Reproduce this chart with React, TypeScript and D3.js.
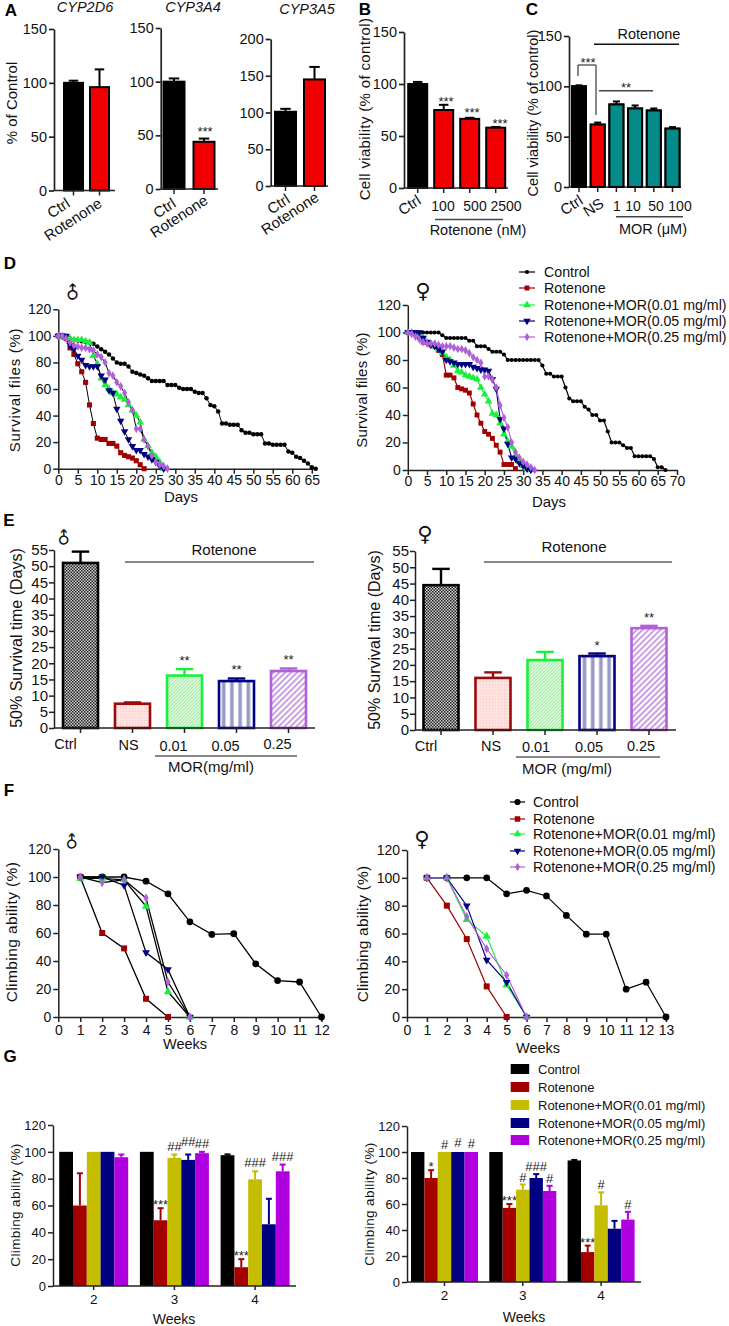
import React, { useEffect, useRef } from "react";
import * as d3 from "d3";

// ---------- DATA ----------
const ctrlRot = ["Ctrl", "Rotenone"];
const cyp2d6 = [100, 96]; const cyp2d6Err = [2, 16.5];
const cyp3a4 = [100, 44]; const cyp3a4Err = [3, 3];
const cyp3a5 = [101, 145]; const cyp3a5Err = [4, 17];
const bCats = ["Ctrl", "100", "500", "2500"];
const bVals = [100, 75, 66.5, 58]; const bErr = [2, 5, 1, 0.7];
const cCats = ["Ctrl", "NS", "1", "10", "50", "100"];
const cVals = [100, 62, 82, 78, 76, 58]; const cErr = [1, 2, 3, 3, 2, 1.5];

const dMaleControl = [100,100,99,98,97,96.5,96,95.5,95,94,92,90,88,86,83,80,79,79,77,73,72,71,70,68,66,66,66,66,63,63,63,61,60,60,60,58,57,57,53,48,47,43,34,34,33,33,33,29,27,27,26,26,26,19,19,18,18,18,18,13,12,9,8,6,4,1,0];
const dMaleRot = [100,100,98,91,86,79,73,65,48,34,23,22,22,19,19,17,12,10,9,8,6,3,0];
const dMale001 = [100,99,99,98,97,97,97,96,95,85,79,68,63,60,57,56,54,52,48,44,40,35,22,17,12,9,5,0];
const dMale005 = [100,100,100,93,90,85,82,78,77,77,77,70,67,59,57,45,36,28,22,17,14,14,11,9,7,5,2,0];
const dMale025 = [100,100,98,95,93,92,91,91,90,89,86,84,80,72,70,65,62,57,50,44,30,30,22,17,10,5,3,2,0];

const dFemControl = [100,100,100,100,100,100,100,100,100,98,96,96,96,96,96,96,94,94,90,90,90,88,86,86,86,84,80,80,80,80,80,80,80,80,80,76,70,70,68,68,68,60,52,50,50,50,46,44,40,40,36,36,28,20,20,20,18,16,16,10,10,10,10,10,8,2,2,0];
const dFemRot = [100,100,99,97,93,93,91,90,87,84,69,69,67,60,59,58,56,48,40,34,28,26,23,18,13,4,4,4,1];
const dFem001 = [100,100,99,98,96,93,92,90,88,85,82,80,76,72,71,69,68,67,66,60,55,50,41,40,34,26,21,17,10,6,3,1,0];
const dFem005 = [100,100,100,100,96,93,91,90,88,86,80,79,78,77,77,77,77,75,74,73,73,72,66,59,37,30,19,9,8,5,3,1,0];
const dFem025 = [100,99,97,95,93,92,92,92,91,90,90,90,89,88,88,87,85,82,80,78,68,68,66,60,47,38,31,20,13,9,6,4,2,0];

const legendLabels = ["Control", "Rotenone", "Rotenone+MOR(0.01 mg/ml)", "Rotenone+MOR(0.05 mg/ml)", "Rotenone+MOR(0.25 mg/ml)"];
const lineColors = ["#000000", "#a00000", "#19f03c", "#000080", "#b060d8"];
const groupColors = ["#000000", "#a50000", "#c4bd00", "#000080", "#b000e0"];
const eCats = ["Ctrl", "NS", "0.01", "0.05", "0.25"];
const eMale = [51, 7.5, 16.2, 14.5, 17.6]; const eMaleErr = [3.5, 0.4, 2, 0.8, 0.8];
const eFem = [44.5, 16, 21.5, 22.7, 31.3]; const eFemErr = [5, 1.7, 2.5, 0.8, 0.7];
const eStrokes = ["#000000", "#9b0a0a", "#19f03c", "#000080", "#b060d8"];
const eMaleStars = ["", "", "**", "**", "**"];
const eFemStars = ["", "", "", "*", "**"];

const fMaleControl = [100,100,100,97,88,68,59,59.5,38,26,25,0];
const fMaleRot = [100,60,49,13,0];
const fMale001 = [99,99,98,79,18,0];
const fMale005 = [100,100,94,46,34,0];
const fMale025 = [100,96,98,85,25,0];
const fFemControl = [100,100,100,100,88.5,91,87,73,59.5,59.5,20,25,0];
const fFemRot = [100,80,56,22,0];
const fFem001 = [100,100,70,58,23,0];
const fFem005 = [100,100,80,41,25,0];
const fFem025 = [100,100,72,49,30,0];

const weeks = ["2", "3", "4"];
const gMale = [[100,60,100,100,96],[100,49,95.5,94,99],[97.5,14,79.5,46,85.5]];
const gMaleErr = [[0,24,0,0,2],[0,9,2.5,4,1],[0.6,6,6,19,5]];
const gMaleMarks = [["","","","",""],["","***","##","##","##"],["","***","###","","###"]];
const gFem = [[100,80,100,100,100],[100,57,71,80,70],[93.5,23,59,41,48]];
const gFemErr = [[0,6,0,0,0],[0,3,4,3,4],[0.4,5,10,6,6]];
const gFemMarks = [["","*","#","#","#"],["","***","#","###","#"],["","***","#","","#"]];

const FONT = "'Liberation Sans', Arial, sans-serif";
type G = d3.Selection<SVGGElement, unknown, null, undefined>;

function txt(g: G, x: number, y: number, s: string, o: any = {}) {
  const t = g.append("text").attr("x", x).attr("y", y).text(s)
    .attr("font-size", o.size ?? 14).attr("text-anchor", o.anchor ?? "middle")
    .attr("fill", o.fill ?? "#111").attr("font-family", o.family ?? FONT);
  if (o.weight) t.attr("font-weight", o.weight);
  if (o.style) t.attr("font-style", o.style);
  if (o.spacing) t.attr("letter-spacing", o.spacing);
  if (o.rotate !== undefined) t.attr("transform", `rotate(${o.rotate} ${x} ${y})`);
  return t;
}
function hline(g: G, x1: number, x2: number, y: number, w = 1.5, c = "#222") {
  g.append("line").attr("x1", x1).attr("x2", x2).attr("y1", y).attr("y2", y).attr("stroke", c).attr("stroke-width", w);
}
function yAxis(g: G, x: number, scale: any, ticks: number[], size: number, w = 1.5, pad = 2) {
  const a = g.append("g").attr("transform", `translate(${x},0)`)
    .call(d3.axisLeft(scale).tickValues(ticks).tickSize(5).tickSizeOuter(0).tickPadding(pad) as any);
  a.attr("font-size", size).attr("font-family", FONT);
  a.selectAll("path,line").attr("stroke", "#222").attr("stroke-width", w);
  a.selectAll("text").attr("fill", "#111");
}
function bandOf(cats: string[], c0: number, step: number, w: number) {
  const p = 1 - w / step;
  return d3.scaleBand<string>().domain(cats).range([c0 - step / 2, c0 + step * (cats.length - 0.5)]).paddingInner(p).paddingOuter(p / 2);
}
function bars(g: G, cats: string[], x: any, y: any, vals: number[], errs: number[], fills: (i: number) => string, strokes: (i: number) => string, sw = 2, capW = 0.5, ew = 2) {
  cats.forEach((c, i) => {
    const bx = x(c), bw = x.bandwidth(), cx = bx + bw / 2;
    if (errs[i] > 0) {
      g.append("line").attr("x1", cx).attr("x2", cx).attr("y1", y(vals[i])).attr("y2", y(vals[i] + errs[i])).attr("stroke", strokes(i)).attr("stroke-width", ew);
      g.append("line").attr("x1", cx - bw * capW / 2).attr("x2", cx + bw * capW / 2).attr("y1", y(vals[i] + errs[i])).attr("y2", y(vals[i] + errs[i])).attr("stroke", strokes(i)).attr("stroke-width", ew);
    }
    g.append("rect").attr("x", bx).attr("y", y(vals[i])).attr("width", bw).attr("height", y(0) - y(vals[i]))
      .attr("fill", fills(i)).attr("stroke", strokes(i)).attr("stroke-width", sw);
  });
}
function xTicks(g: G, cats: string[], x: any, y0: number, len = 5, w = 1.5) {
  cats.forEach((c) => {
    const cx = x(c) + x.bandwidth() / 2;
    g.append("line").attr("x1", cx).attr("x2", cx).attr("y1", y0).attr("y2", y0 + len).attr("stroke", "#222").attr("stroke-width", w);
  });
}
function stars(g: G, cx: number, y: number, s: string, size = 13) {
  txt(g, cx, y, s, { size, fill: "#222" });
}
function marker(g: G, kind: number, cx: number, cy: number, size: number, color: string) {
  const types = [d3.symbolCircle, d3.symbolSquare, d3.symbolTriangle, d3.symbolTriangle, d3.symbolDiamond];
  const rot = kind === 3 ? " rotate(180)" : "";
  g.append("path").attr("d", d3.symbol().type(types[kind]).size(size)()!)
    .attr("transform", `translate(${cx},${cy})${rot}`).attr("fill", color);
}
function linesPanel(g: G, series: number[][], x: any, y: any, lineCol: (i: number) => string, sizes: number[], lw: number) {
  const line = d3.line<number>().x((_, i) => x(i + (g as any).__start)).y((d) => y(d));
  series.forEach((s, k) => {
    g.append("path").attr("d", line(s)!).attr("fill", "none").attr("stroke", lineCol(k)).attr("stroke-width", lw);
  });
  series.forEach((s, k) => {
    s.forEach((d, i) => marker(g, k, x(i + (g as any).__start), y(d), sizes[k], lineColors[k]));
  });
}
function lineLegend(g: G, x1: number, x2: number, tx: number, rows: number[], size: number, msizes: number[]) {
  legendLabels.forEach((l, k) => {
    g.append("line").attr("x1", x1).attr("x2", x2).attr("y1", rows[k]).attr("y2", rows[k]).attr("stroke", lineColors[k]).attr("stroke-width", 1.2);
    marker(g, k, (x1 + x2) / 2, rows[k], msizes[k], lineColors[k]);
    txt(g, tx, rows[k] + 5, l, { size, anchor: "start" });
  });
}
function male(g: G, x: number, y: number, size = 18) {
  txt(g, 0, 0, "♂", { size, family: "'DejaVu Sans'", fill: "#111" }).attr("transform", `translate(${x},${y}) rotate(-45)`);
}
function female(g: G, x: number, y: number, size = 20) {
  txt(g, x, y, "♀", { size, family: "'DejaVu Sans'", fill: "#111" });
}

function draw(svgEl: SVGSVGElement) {
  const svg = d3.select(svgEl);
  svg.selectAll("*").remove();
  const defs = svg.append("defs");
  const pat = (id: string, w: number, h: number, bg: string, body: string, tr = "") => {
    const p = defs.append("pattern").attr("id", id).attr("patternUnits", "userSpaceOnUse").attr("width", w).attr("height", h);
    if (tr) p.attr("patternTransform", tr);
    p.append("rect").attr("width", w).attr("height", h).attr("fill", bg);
    p.html(p.html() + body);
  };
  pat("pCross", 3, 3, "#cfcfcf", '<rect width="1.5" height="1.5" fill="#222"/><rect x="1.5" y="1.5" width="1.5" height="1.5" fill="#222"/>');
  pat("pDots", 3, 3, "#ffe2e0", '<rect width="1" height="1" fill="#fbcbc8"/>');
  pat("pGreen", 2.4, 2.4, "#e6fbe6", '<rect width="1" height="2.4" fill="#9fe89f"/>', "rotate(45)");
  pat("pNavy", 8.2, 4, "#ffffff", '<rect x="0.5" width="3.6" height="4" fill="#9a9ac8"/>');
  pat("pPurple", 4.2, 4.2, "#ffffff", '<rect width="1.9" height="4.2" fill="#c99ae0"/>', "rotate(45)");
  const root = svg.append("g") as unknown as G;

  // ---- letters
  [["A", 11, 16], ["B", 365, 15], ["C", 532, 15], ["D", 10, 269], ["E", 9, 526], ["F", 9, 796], ["G", 10, 1062]].forEach(([s, x, y]: any) =>
    txt(root, x, y, s, { size: 17, weight: "bold", fill: "#000" }));

  // ---- A
  const redBlack = (i: number) => (i === 0 ? "#000" : "#f00000");
  const black = () => "#000";
  const aPanel = (cats: string[], vals: number[], errs: number[], axisX: number, xEnd: number, yTop: number, y0: number, max: number, ticks: number[], c0: number, step: number, w: number) => {
    const y = d3.scaleLinear().domain([0, max]).range([y0, yTop]);
    const x = bandOf(cats, c0, step, w);
    bars(root, cats, x, y, vals, errs, redBlack, black);
    yAxis(root, axisX, y, ticks, 14.5, 1.7);
    hline(root, axisX, xEnd, y0, 1.7);
    xTicks(root, cats, x, y0);
    return { x, y };
  };
  const rotLabel = (x: number, y: number, s: string) => txt(root, x, y, s, { size: 15, anchor: "end", rotate: -33 });

  let p = aPanel(ctrlRot, cyp2d6, cyp2d6Err, 54, 115, 29, 190.5, 150, [0, 50, 100, 150], 73.5, 26, 19);
  txt(root, 85, 12, "CYP2D6", { size: 14.5, style: "italic" });
  txt(root, 17, 103, "% of Control", { size: 15 , rotate: -90 });
  rotLabel(71, 206, "Ctrl"); rotLabel(103, 206, "Rotenone");

  p = aPanel(ctrlRot, cyp3a4, cyp3a4Err, 160.7, 218, 28, 189, 150, [0, 50, 100, 150], 174, 30, 21);
  txt(root, 193, 12, "CYP3A4", { size: 14.5, style: "italic" });
  stars(root, 205, 136, "***");
  rotLabel(177, 206, "Ctrl"); rotLabel(209, 203, "Rotenone");

  p = aPanel(ctrlRot, cyp3a5, cyp3a5Err, 270.7, 328, 39, 186, 200, [0, 50, 100, 150, 200], 285.5, 29, 21);
  txt(root, 307, 14, "CYP3A5", { size: 14.5, style: "italic" });
  rotLabel(291, 202, "Ctrl"); rotLabel(320, 200, "Rotenone");

  // ---- B
  p = aPanel(bCats, bVals, bErr, 404, 508, 32, 188, 150, [0, 50, 100, 150], 417.7, 26, 19);
  txt(root, 370, 109, "Cell viability (% of control)", { size: 15, rotate: -90, spacing: 0.35 });
  rotLabel(422, 203, "Ctrl");
  [["100", 443], ["500", 475], ["2500", 506]].forEach(([s, x]: any) => txt(root, x, 211, s, { size: 14 }));
  [["***", 446, 103], ["***", 472, 114], ["***", 500, 125]].forEach(([s, x, y]: any) => stars(root, x, y + 3, s));
  hline(root, 435, 503, 219.5, 1.5, "#444");
  txt(root, 478, 235, "Rotenone (nM)", { size: 14.5 });

  // ---- C
  p = aPanel(cCats, cVals, cErr, 569, 681, 36, 187, 150, [0, 50, 100, 150], 579, 18.7, 14);
  const cFill = (i: number) => (i === 0 ? "#000" : i === 1 ? "#f00000" : "#058a8a");
  cCats.forEach((c, i) => {
    root.append("rect").attr("x", p.x(c)!).attr("y", p.y(cVals[i])).attr("width", p.x.bandwidth()).attr("height", p.y(0) - p.y(cVals[i])).attr("fill", cFill(i)).attr("stroke", "#000").attr("stroke-width", 2);
  });
  txt(root, 538, 113, "Cell viability (% of control)", { size: 14.5 , rotate: -90 });
  rotLabel(584, 203, "Ctrl"); rotLabel(605, 206, "NS");
  [["1", 617], ["10", 633], ["50", 656], ["100", 680]].forEach(([s, x]: any) => txt(root, x, 211, s, { size: 14 }));
  txt(root, 649, 39, "Rotenone", { size: 14.5 });
  hline(root, 594, 679, 44.3, 1.5, "#111");
  root.append("path").attr("d", "M578,76V65H596V115").attr("fill", "none").attr("stroke", "#111").attr("stroke-width", 1);
  stars(root, 588, 67, "***");
  hline(root, 599, 653, 90.7, 1.5, "#444");
  stars(root, 626, 92, "**");
  hline(root, 616, 683, 216.7, 1.5, "#444");
  txt(root, 653, 234, "MOR (μM)", { size: 14.5 });

  // ---- D male
  const dLeft = root.append("g") as unknown as G;
  const dx1 = d3.scaleLinear().domain([0, 65]).range([58.3, 311.8]);
  const dy1 = d3.scaleLinear().domain([0, 120]).range([468.7, 309.3]);
  (dLeft as any).__start = 0;
  yAxis(dLeft, 58.3, dy1, d3.range(0, 121, 20), 14);
  const dAx1 = dLeft.append("g").attr("transform", "translate(0,468.7)").call(d3.axisBottom(dx1).tickValues(d3.range(0, 66, 5)).tickSize(5).tickSizeOuter(0).tickPadding(1) as any);
  dAx1.attr("font-size", 14).attr("font-family", FONT);
  dAx1.selectAll("path,line").attr("stroke", "#222").attr("stroke-width", 1.5);
  dAx1.selectAll("text").attr("fill", "#111");
  hline(dLeft, 311, 317, 468.7);
  linesPanel(dLeft, [dMaleControl, dMaleRot, dMale001, dMale005, dMale025], dx1, dy1, () => "#000", [16, 26, 26, 24, 22], 1);
  txt(root, 20, 390, "Survival files (%)", { size: 15, rotate: -90, spacing: 0.7 });
  txt(root, 181, 502, "Days", { size: 15 });
  male(root, 77, 297, 18);

  // ---- D female
  const dRight = root.append("g") as unknown as G;
  const dx2 = d3.scaleLinear().domain([0, 70]).range([407.8, 677]);
  const dy2 = d3.scaleLinear().domain([0, 120]).range([470, 305]);
  (dRight as any).__start = 0;
  yAxis(dRight, 407.8, dy2, d3.range(0, 121, 20), 14);
  const dAx2 = dRight.append("g").attr("transform", "translate(0,470)").call(d3.axisBottom(dx2).tickValues(d3.range(0, 71, 5)).tickSize(5).tickSizeOuter(0).tickPadding(1) as any);
  dAx2.attr("font-size", 14).attr("font-family", FONT);
  dAx2.selectAll("path,line").attr("stroke", "#222").attr("stroke-width", 1.5);
  dAx2.selectAll("text").attr("fill", "#111");
  linesPanel(dRight, [dFemControl, dFemRot, dFem001, dFem005, dFem025], dx2, dy2, (i) => lineColors[i], [14, 24, 26, 24, 22], 1.2);
  txt(root, 367, 390, "Survival files (%)", { size: 15, rotate: -90, spacing: 0.2 });
  txt(root, 549, 507, "Days", { size: 15 });
  female(root, 423, 298, 21);
  lineLegend(root, 519, 535, 544, [272, 288, 305, 321, 337], 14.2, [14, 24, 26, 24, 22]);

  // ---- E
  const ePanel = (vals: number[], errs: number[], starsArr: string[], axisX: number, xEnd: number, yTop: number, y0: number, c0: number, dxs: number[], labelY: number[]) => {
    const y = d3.scaleLinear().domain([0, 55]).range([y0, yTop]);
    const x = bandOf(eCats, c0, 52, 35);
    const fills = ["url(#pCross)", "url(#pDots)", "url(#pGreen)", "url(#pNavy)", "url(#pPurple)"];
    bars(root, eCats, x, y, vals, errs, (i) => fills[i], (i) => eStrokes[i], 2.6, 0.5, 2.4);
    yAxis(root, axisX, y, d3.range(0, 56, 5), 15, 1.5, 1);
    hline(root, axisX, xEnd, y0, 1.5);
    xTicks(root, eCats, x, y0, 5);
    eCats.forEach((c, i) => {
      txt(root, x(c)! + 17.5 + dxs[i], labelY[i], c, { size: 14.5 });
      if (starsArr[i]) stars(root, x(c)! + 17.5, y(vals[i] + errs[i]) - 4, starsArr[i], 13);
    });
    return { x, y };
  };
  ePanel(eMale, eMaleErr, eMaleStars, 54, 315, 550, 728, 80.5, [-15, -4, -11, -11, -11], [749, 750, 751, 751, 749]);
  txt(root, 224, 555, "Rotenone", { size: 15 });
  hline(root, 125, 314, 562, 1.2, "#111");
  hline(root, 155, 297, 756, 1.2, "#111");
  txt(root, 211, 772, "MOR(mg/ml)", { size: 15 });
  txt(root, 22, 638, "50% Survival time (Days)", { size: 16, rotate: -90 });
  male(root, 68, 542, 17);

  ePanel(eFem, eFemErr, eFemStars, 415, 676, 551, 730, 441, [-15, -2, -9, -8, -8], [751, 751, 752, 752, 751]);
  txt(root, 574, 552, "Rotenone", { size: 15 });
  hline(root, 484, 672, 562, 1.2, "#111");
  hline(root, 516, 660, 757, 1.2, "#111");
  txt(root, 567, 774, "MOR (mg/ml)", { size: 15 });
  txt(root, 380, 640, "50% Survival time (Days)", { size: 16, rotate: -90 });
  female(root, 425, 541, 21);

  // ---- F
  const fPanel = (series: number[][], axisX: number, maxW: number, xRight: number, yTop: number, y0: number, col: (i: number) => string, lw: number, sizes: number[]) => {
    const gp = root.append("g") as unknown as G;
    const x = d3.scaleLinear().domain([0, maxW]).range([axisX, xRight]);
    const y = d3.scaleLinear().domain([0, 120]).range([y0, yTop]);
    yAxis(gp, axisX, y, d3.range(0, 121, 20), 14);
    const a = gp.append("g").attr("transform", `translate(0,${y0})`).call(d3.axisBottom(x).tickValues(d3.range(0, maxW + 1)).tickFormat(d3.format("d") as any).tickSize(5).tickSizeOuter(0).tickPadding(3) as any);
    a.attr("font-size", 14).attr("font-family", FONT);
    a.selectAll("path,line").attr("stroke", "#222").attr("stroke-width", 1.5);
    a.selectAll("text").attr("fill", "#111");
    (gp as any).__start = 1;
    linesPanel(gp, series, x, y, col, sizes, lw);
  };
  fPanel([fMaleControl, fMaleRot, fMale001, fMale005, fMale025], 58.3, 12, 321.5, 849, 1017, () => "#000", 1.3, [36, 36, 30, 26, 24]);
  txt(root, 17, 932, "Climbing ability (%)", { size: 15.5, rotate: -90, spacing: 0.4 });
  txt(root, 185, 1049, "Weeks", { size: 14.5 });
  male(root, 76, 846, 17);
  fPanel([fFemControl, fFemRot, fFem001, fFem005, fFem025], 407, 13, 666, 850, 1017, (i) => lineColors[i], 1.2, [36, 36, 30, 26, 24]);
  txt(root, 368, 934, "Climbing ability (%)", { size: 15.5, rotate: -90, spacing: 0.2 });
  female(root, 422, 846, 21);
  lineLegend(root, 510, 525, 533, [802, 819, 834, 851, 867], 14.2, [30, 30, 26, 24, 22]);

  // ---- G
  const gPanel = (vals: number[][], errs: number[][], marks: string[][], lifts: number[][], axisX: number, xEnd: number, yTop: number, y0: number, c0: number, step: number, barW: number, markSize: number) => {
    const y = d3.scaleLinear().domain([0, 120]).range([y0, yTop]);
    const x = d3.scaleBand<string>().domain(weeks).range([c0 - step / 2, c0 + step * 2.5]);
    const series = ["c", "r", "a", "b", "d"];
    const inner = d3.scaleBand<string>().domain(series).range([(step - barW * 5) / 2, (step + barW * 5) / 2]);
    weeks.forEach((w, wi) => {
      series.forEach((s, si) => {
        const bx = x(w)! + inner(s)!, cx = bx + barW / 2;
        const e = errs[wi][si], v = vals[wi][si], c = groupColors[si];
        if (e > 0) {
          root.append("line").attr("x1", cx).attr("x2", cx).attr("y1", y(v)).attr("y2", y(v + e)).attr("stroke", c).attr("stroke-width", 2);
          root.append("line").attr("x1", cx - 3).attr("x2", cx + 3).attr("y1", y(v + e)).attr("y2", y(v + e)).attr("stroke", c).attr("stroke-width", 2);
        }
        root.append("rect").attr("x", bx).attr("y", y(v)).attr("width", barW).attr("height", y(0) - y(v)).attr("fill", c);
        if (marks[wi][si]) {
          txt(root, cx, y(v + e) - lifts[wi][si], marks[wi][si], { size: markSize, fill: "#222" });
        }
      });
    });
    yAxis(root, axisX, y, d3.range(0, 121, 20), 13, 1.5);
    hline(root, axisX, xEnd, y0, 1.5);
    const tk = d3.scaleBand<string>().domain(weeks).range(x.range() as any);
    xTicks(root, weeks, tk, y0, 4);
    weeks.forEach((w) => txt(root, x(w)! + step / 2, y0 + 18, w, { size: 13.5 }));
  };
  gPanel(gMale, gMaleErr, gMaleMarks, [[0,0,0,0,0],[0,-1,4,9,4],[0,-1,4,0,4]], 53, 296, 1125, 1286, 93.7, 80.7, 13.8, 13);
  txt(root, 20, 1205, "Climbing ability (%)", { size: 13.5, rotate: -90, spacing: 0.4 });
  txt(root, 174, 1324, "Weeks", { size: 14 });
  gPanel(gFem, gFemErr, gFemMarks, [[0,-1,3,5,4],[0,-1,3,3,3],[0,-1,3,0,3]], 407, 641, 1126, 1282, 444.5, 78.3, 13.4, 13);
  txt(root, 374, 1204, "Climbing ability (%)", { size: 13.5, rotate: -90, spacing: 0.4 });
  txt(root, 524, 1322, "Weeks", { size: 14 });
  txt(root, 538, 1053, "Weeks", { size: 14.5 });
  legendLabels.forEach((l, k) => {
    const r = [1069, 1087, 1105, 1123, 1140][k];
    root.append("rect").attr("x", 510.7).attr("y", r - 5).attr("width", 18.5).attr("height", 10).attr("fill", groupColors[k]);
    txt(root, 538, r + 5, l, { size: 13, anchor: "start" });
  });
}

export default function App() {
  const ref = useRef<SVGSVGElement>(null);
  useEffect(() => {
    if (ref.current) draw(ref.current);
  }, []);
  return <svg ref={ref} width={729} height={1326} style={{ position: "absolute", left: 0, top: 0, background: "#fff" }} />;
}
